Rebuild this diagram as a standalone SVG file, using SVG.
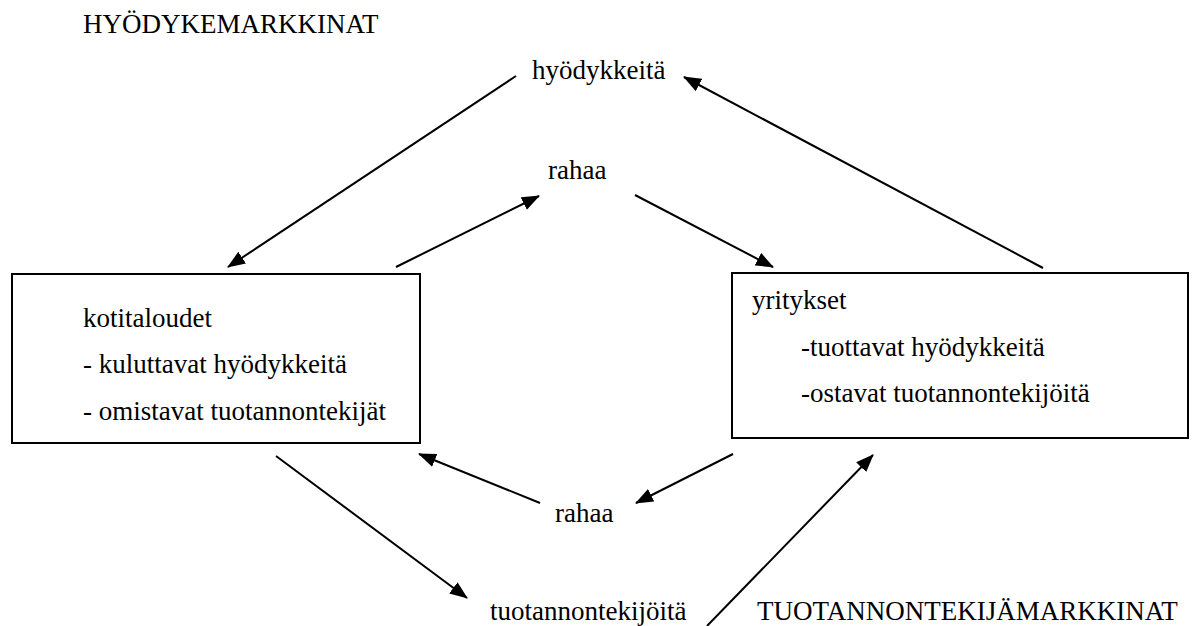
<svg xmlns="http://www.w3.org/2000/svg" width="1192" height="626" viewBox="0 0 1192 626">
<style>
text{font-family:"Liberation Serif","Times New Roman",serif;font-size:27px;fill:#000}
.box{fill:#fff;stroke:#000;stroke-width:2}
.con line{stroke:#000;stroke-width:2;marker-end:url(#ah)}
</style>
<defs>
<marker id="ah" markerWidth="18" markerHeight="14" refX="17" refY="7" orient="auto" markerUnits="userSpaceOnUse" viewBox="0 0 18 14">
<path d="M0,0 L18,7 L0,14 z" fill="#000"/>
</marker>
</defs>
<rect width="1192" height="626" fill="#fff"/>
<g id="label-hyodykemarkkinat"><text x="83" y="33">HYÖDYKEMARKKINAT</text></g>
<g id="label-tuotannontekijamarkkinat"><text x="757" y="620">TUOTANNONTEKIJÄMARKKINAT</text></g>
<g id="kotitaloudet">
<rect class="box" x="12" y="274" width="408" height="169"/>
<text x="83" y="327">kotitaloudet</text>
<text x="83" y="373">- kuluttavat hyödykkeitä</text>
<text x="83" y="420">- omistavat tuotannontekijät</text>
</g>
<g id="yritykset">
<rect class="box" x="732" y="273" width="456" height="165"/>
<text x="752" y="309">yritykset</text>
<text x="801" y="356">-tuottavat hyödykkeitä</text>
<text x="801" y="402">-ostavat tuotannontekijöitä</text>
</g>
<g id="hyodykkeita"><text x="532" y="79">hyödykkeitä</text></g>
<g id="rahaa-top"><text x="548" y="179">rahaa</text></g>
<g id="rahaa-bottom"><text x="555" y="522">rahaa</text></g>
<g id="tuotannontekijoita"><text x="490" y="620">tuotannontekijöitä</text></g>
<g id="connectors" class="con">
<line x1="516" y1="76" x2="228" y2="267"/>
<line x1="1043" y1="268" x2="684" y2="77"/>
<line x1="396" y1="267" x2="539" y2="196"/>
<line x1="635" y1="195" x2="773" y2="267"/>
<line x1="540" y1="503" x2="419" y2="454"/>
<line x1="733" y1="454" x2="636" y2="503"/>
<line x1="276" y1="456" x2="467" y2="598"/>
<line x1="707" y1="626" x2="873" y2="455"/>
</g>
</svg>
